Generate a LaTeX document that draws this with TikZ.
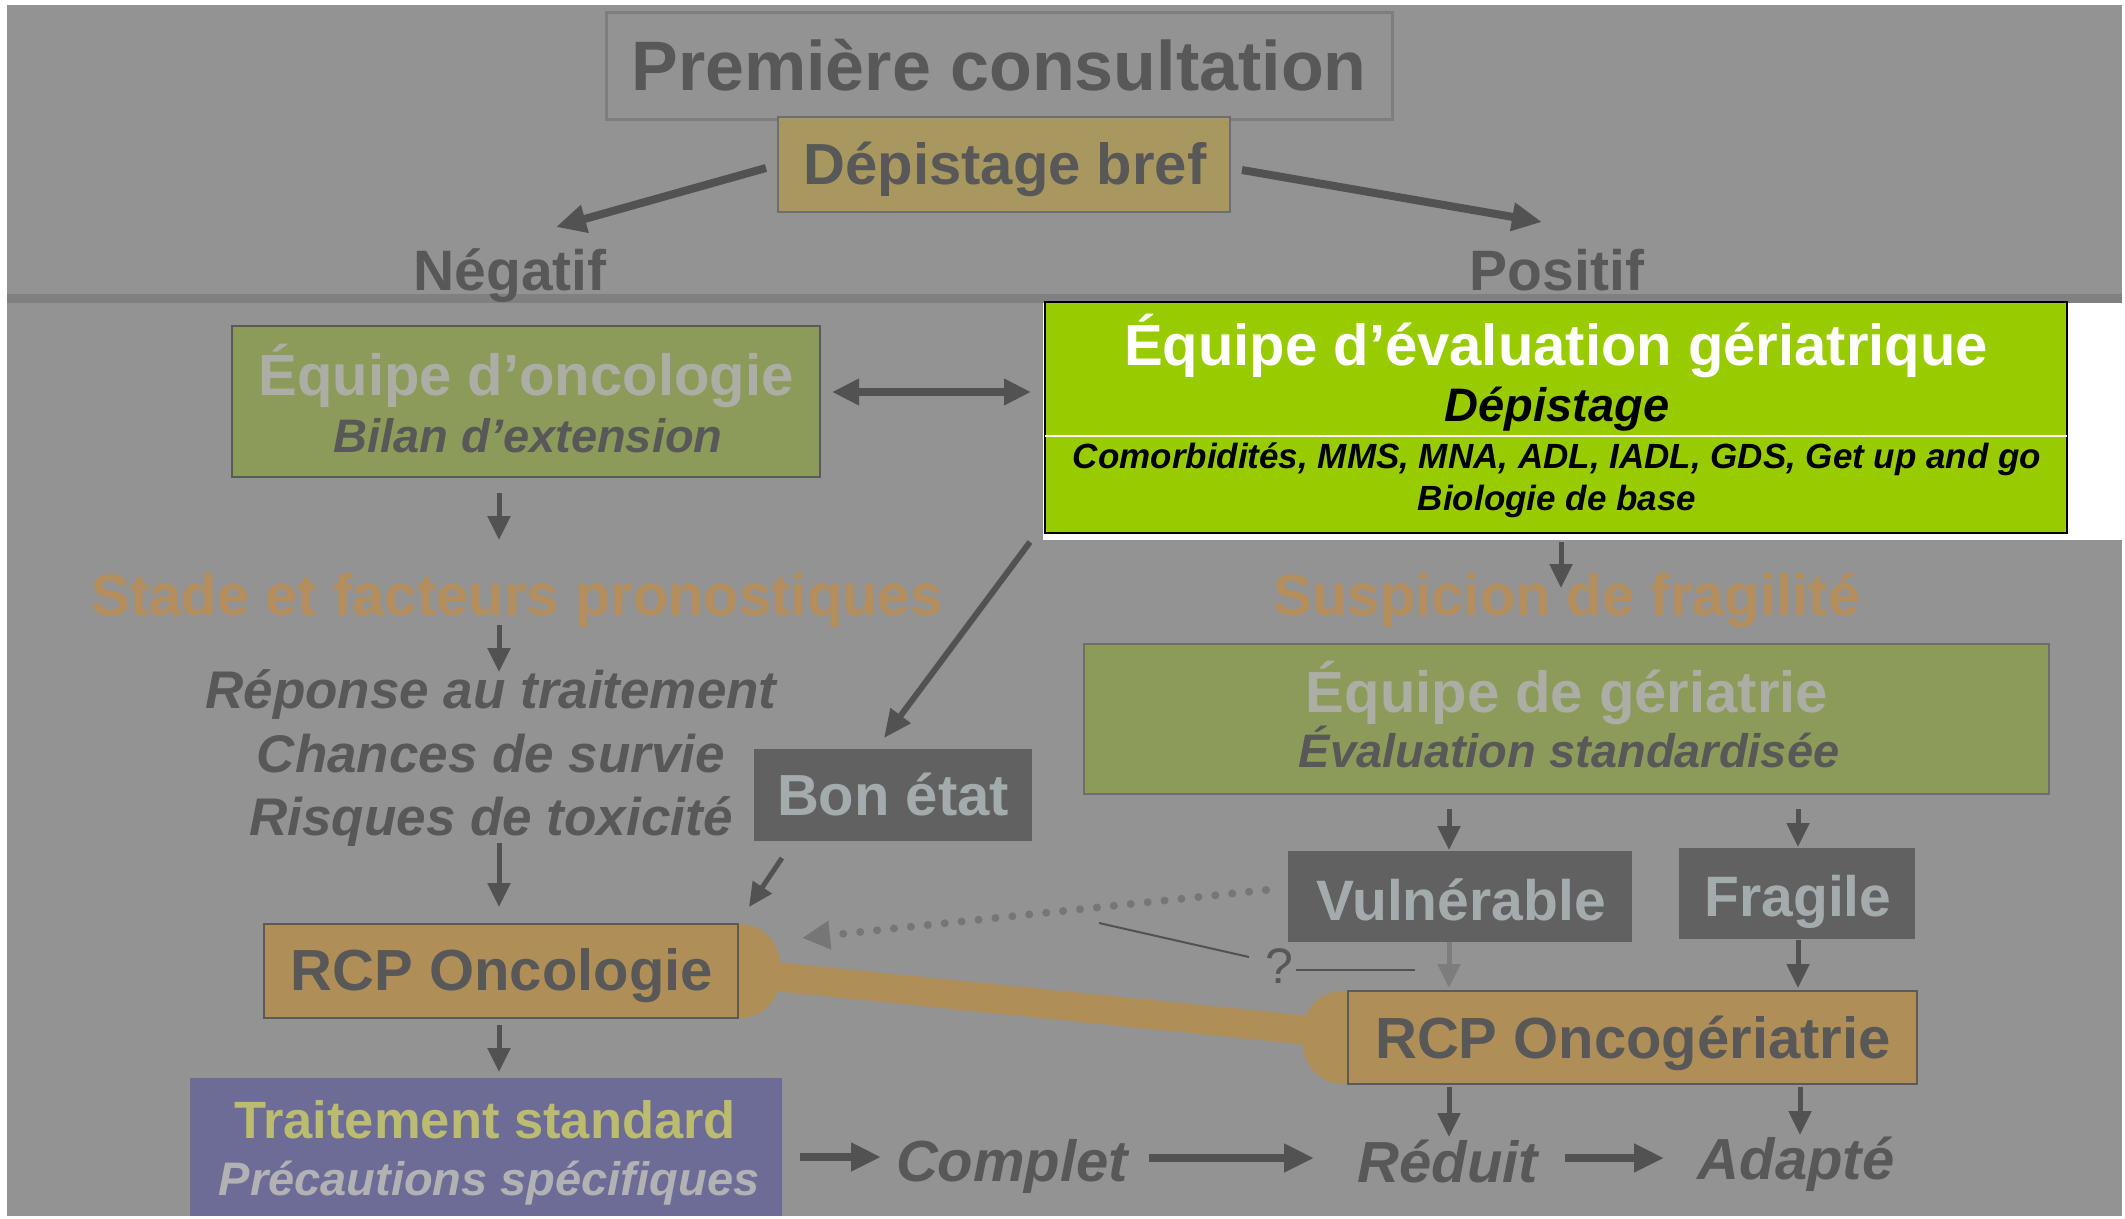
\documentclass[tikz,border=0pt]{standalone}
\usepackage{fontspec}
\setmainfont{Liberation Sans}
\usetikzlibrary{arrows.meta,calc,backgrounds}

\newcommand{\fsz}[1]{\fontsize{#1}{#1}\selectfont}

\definecolor{fond}{RGB}{147,147,147}
\definecolor{bande}{RGB}{128,128,128}
\definecolor{sombre}{RGB}{88,88,88}
\definecolor{fleche}{RGB}{82,82,82}
\definecolor{flechepale}{RGB}{125,125,125}
\definecolor{pointille}{RGB}{118,118,118}
\definecolor{cadre}{RGB}{126,126,126}
\definecolor{bordsombre}{RGB}{90,90,90}
\definecolor{bordgris}{RGB}{110,110,110}
\definecolor{jaune}{RGB}{168,152,95}
\definecolor{kaki}{RGB}{140,155,90}
\definecolor{clairkaki}{RGB}{172,174,166}
\definecolor{ocre}{RGB}{176,142,88}
\definecolor{ocretexte}{RGB}{180,142,92}
\definecolor{mauve}{RGB}{108,108,150}
\definecolor{jaunetexte}{RGB}{188,188,112}
\definecolor{grispale}{RGB}{178,178,180}
\definecolor{grisfonce}{RGB}{97,97,97}
\definecolor{grisclair}{RGB}{164,171,172}
\definecolor{vertvif}{RGB}{153,204,0}

\begin{document}
\begin{tikzpicture}[x=1pt,y=1pt,yscale=-1,
  txt/.style={anchor=base,inner sep=0pt,text=sombre},
  boite/.style={rectangle,inner sep=0pt,outer sep=0pt,line width=2pt},
  fl/.style={draw=fleche,line width=5pt,-{Triangle[length=24pt,width=22pt]}},
  moyfl/.style={draw=fleche,line width=6pt,-{Triangle[length=28pt,width=24pt]}},
  grosfl/.style={draw=fleche,line width=8pt,-{Triangle[length=30pt,width=27pt]}},
  fin/.style={draw=fleche,line width=2pt}]
\useasboundingbox (0,0) rectangle (2125,1218);

%Background
\begin{scope}[on background layer]
\fill[white] (0,0) rectangle (2125,1218);
\fill[fond] (7,5) rectangle (2122,1216);
\fill[bande] (7,294) rectangle (2122,303);
\fill[white] (1043,303) rectangle (2125,540);
\end{scope}

%Shape: Rectangles
\node[boite,draw=cadre,line width=3pt,minimum width=786pt,minimum height=107pt] (consult) at (999,65.5) {};
\node[boite,draw=bordgris,fill=jaune,minimum width=452pt,minimum height=95pt] (depbref) at (1004,164.5) {};
\node[boite,draw=bordsombre,fill=kaki,minimum width=588pt,minimum height=151pt] (onco) at (526,401.5) {};
\node[boite,draw=black,line width=2.5pt,fill=vertvif,minimum width=1022pt,minimum height=231pt] (eval) at (1556,417.5) {};
\node[boite,fill=grisfonce,minimum width=278pt,minimum height=92pt] (bonetat) at (893,795) {};
\node[boite,draw=bordsombre,fill=ocre,minimum width=474pt,minimum height=94pt] (rcpo) at (501,971) {};
\node[boite,draw=bordgris,fill=kaki,minimum width=965pt,minimum height=150pt] (geria) at (1566.5,719) {};
\node[boite,fill=grisfonce,minimum width=344pt,minimum height=91pt] (vuln) at (1460,896.5) {};
\node[boite,fill=grisfonce,minimum width=236pt,minimum height=91pt] (fragile) at (1797,893.5) {};
\node[boite,draw=bordsombre,fill=ocre,minimum width=569pt,minimum height=93pt] (rcpog) at (1632.5,1037.5) {};
\node[boite,fill=mauve,minimum width=592pt,minimum height=138pt] (standard) at (486,1147) {};
\draw[white,line width=2pt] ($(eval.west)+(0,18.5)$) -- ($(eval.east)+(0,18.5)$);

%Link between the two RCP
\begin{scope}[on background layer]
\fill[ocre,rounded corners=40pt] (rcpo.north west) rectangle ($(rcpo.south east)+(42,0)$);
\fill[ocre,rounded corners=40pt] ($(rcpog.north west)+(-45,0)$) rectangle (rcpog.south east);
\draw[ocre,line width=29pt] ($(rcpo.east)+(40,6)$) -- ($(rcpog.west)+(-43,-7.5)$);
\end{scope}

% Text Node
\node[txt,font=\fsz{70}\bfseries] (consultT) at (999,90) {Première consultation};
\node[txt,font=\fsz{58}\bfseries] (depbrefT) at (1005,184) {Dépistage bref};
\node[txt,font=\fsz{57}\bfseries] (neg) at (510,290) {Négatif};
\node[txt,font=\fsz{57}\bfseries] (pos) at (1557,290) {Positif};
\node[txt,font=\fsz{58}\bfseries,text=clairkaki] (oncoT) at (526,395) {Équipe d’oncologie};
\node[txt,font=\fsz{47}\bfseries\itshape] (oncoT2) at (528,452) {Bilan d’extension};
\node[txt,font=\fsz{58}\bfseries,text=white] (evalT) at (1556,365) {Équipe d’évaluation gériatrique};
\node[txt,font=\fsz{47}\bfseries\itshape,text=black] (evalT2) at (1557,421) {Dépistage};
\node[txt,font=\fsz{35}\bfseries\itshape,text=black] (evalT3) at (1557,468) {Comorbidités, MMS, MNA, ADL, IADL, GDS, Get up and go};
\node[txt,font=\fsz{35}\bfseries\itshape,text=black] (evalT4) at (1557,510) {Biologie de base};
\node[txt,font=\fsz{58}\bfseries,text=ocretexte] (stade) at (517,615) {Stade et facteurs pronostiques};
\node[txt,font=\fsz{58}\bfseries,text=ocretexte] (susp) at (1567,615) {Suspicion de fragilité};
\node[txt,font=\fsz{53}\bfseries\itshape] (rep) at (491,708) {Réponse au traitement};
\node[txt,font=\fsz{53}\bfseries\itshape] (survie) at (491,772) {Chances de survie};
\node[txt,font=\fsz{53}\bfseries\itshape] (toxi) at (491,835) {Risques de toxicité};
\node[txt,font=\fsz{58}\bfseries,text=grisclair] (bonetatT) at (893,815) {Bon état};
\node[txt,font=\fsz{58}\bfseries,text=clairkaki] (geriaT) at (1567,712) {Équipe de gériatrie};
\node[txt,font=\fsz{47}\bfseries\itshape] (geriaT2) at (1569,767) {Évaluation standardisée};
\node[txt,font=\fsz{57}\bfseries,text=grisclair] (vulnT) at (1461,920) {Vulnérable};
\node[txt,font=\fsz{57}\bfseries,text=grisclair] (fragileT) at (1798,916) {Fragile};
\node[txt,font=\fsz{58}\bfseries] (rcpoT) at (502,990) {RCP Oncologie};
\node[txt,font=\fsz{58}\bfseries] (rcpogT) at (1633,1058) {RCP Oncogériatrie};
\node[txt,font=\fsz{50}] (qmark) at (1279,983) {?};
\node[txt,font=\fsz{52.5}\bfseries,text=jaunetexte] (standardT) at (485,1138) {Traitement standard};
\node[txt,font=\fsz{47}\bfseries\itshape,text=grispale] (standardT2) at (489,1195) {Précautions spécifiques};
\node[txt,font=\fsz{58}\bfseries\itshape] (complet) at (1012,1181) {Complet};
\node[txt,font=\fsz{58}\bfseries\itshape] (reduit) at (1448,1182) {Réduit};
\node[txt,font=\fsz{58}\bfseries\itshape] (adapte) at (1796,1179) {Adapté};

%Arrows
\draw[grosfl] ($(depbref.west)+(-12,3.5)$) -- ($(neg.base)+(46,-63)$);
\draw[grosfl] ($(depbref.east)+(12,5.5)$) -- ($(pos.base)+(-15,-68)$);
\draw[grosfl,{Triangle[length=27pt,width=25pt]}-{Triangle[length=27pt,width=25pt]}] ($(onco.east)+(12,-9.5)$) -- ($(eval.west)+(-14,-25.5)$);
\draw[fl] ($(onco.south)+(-27,16)$) -- ($(stade.base)+(-18,-75)$);
\draw[fl] ($(stade.base)+(-18,10)$) -- ($(rep.base)+(8,-36)$);
\draw[fl] ($(toxi.base)+(8,8)$) -- ($(rcpo.north)+(-2,-17)$);
\draw[moyfl] ($(eval.south west)+(-15,9)$) -- ($(bonetat.north)+(-9,-11)$);
\draw[fl] ($(bonetat.south west)+(28,17)$) -- ($(rcpo.north east)+(11,-17)$);
\draw[fl] ($(eval.south)+(5,9)$) -- ($(susp.base)+(-6,-27)$);
\draw[fl] ($(geria.south)+(-117.5,15)$) -- ($(vuln.north)+(-11,-1)$);
\draw[fl] ($(geria.south)+(231.5,15)$) -- ($(fragile.north)+(1,-1)$);
\draw[fl,draw=flechepale] ($(vuln.south)+(-11,0)$) -- ($(rcpog.north)+(-183.5,-3)$);
\draw[fl] ($(fragile.south)+(1,1)$) -- ($(rcpog.north)+(165.5,-3)$);
\draw[fl] ($(rcpog.south)+(-183.5,3)$) -- ($(reduit.base)+(1,-45)$);
\draw[fl] ($(rcpog.south)+(167.5,3)$) -- ($(adapte.base)+(4,-44)$);
\draw[fl] ($(rcpo.south)+(-2,7)$) -- ($(standard.north)+(13,-6)$);
\draw[grosfl] ($(standard.east)+(18,10)$) -- ($(complet.base)+(-131,-24)$);
\draw[grosfl] ($(complet.base)+(137,-23)$) -- ($(reduit.base)+(-134,-24)$);
\draw[grosfl] ($(reduit.base)+(117,-24)$) -- ($(adapte.base)+(-132,-21)$);

%Dotted arrow and question mark
\draw[draw=pointille,line width=8pt,line cap=round,dash pattern=on 0pt off 17pt,-{Triangle[length=28pt,width=27pt]}] ($(vuln.west)+(-22,-6.5)$) -- ($(rcpo.north east)+(64,14)$);
\coordinate (qdebut) at (1099,923);
\coordinate (qfin) at (1415,970);
\draw[fin] (qdebut) -- ($(qmark.base)+(-30,-26)$);
\draw[fin] ($(qmark.base)+(17,-13)$) -- (qfin);

\end{tikzpicture}
\end{document}
